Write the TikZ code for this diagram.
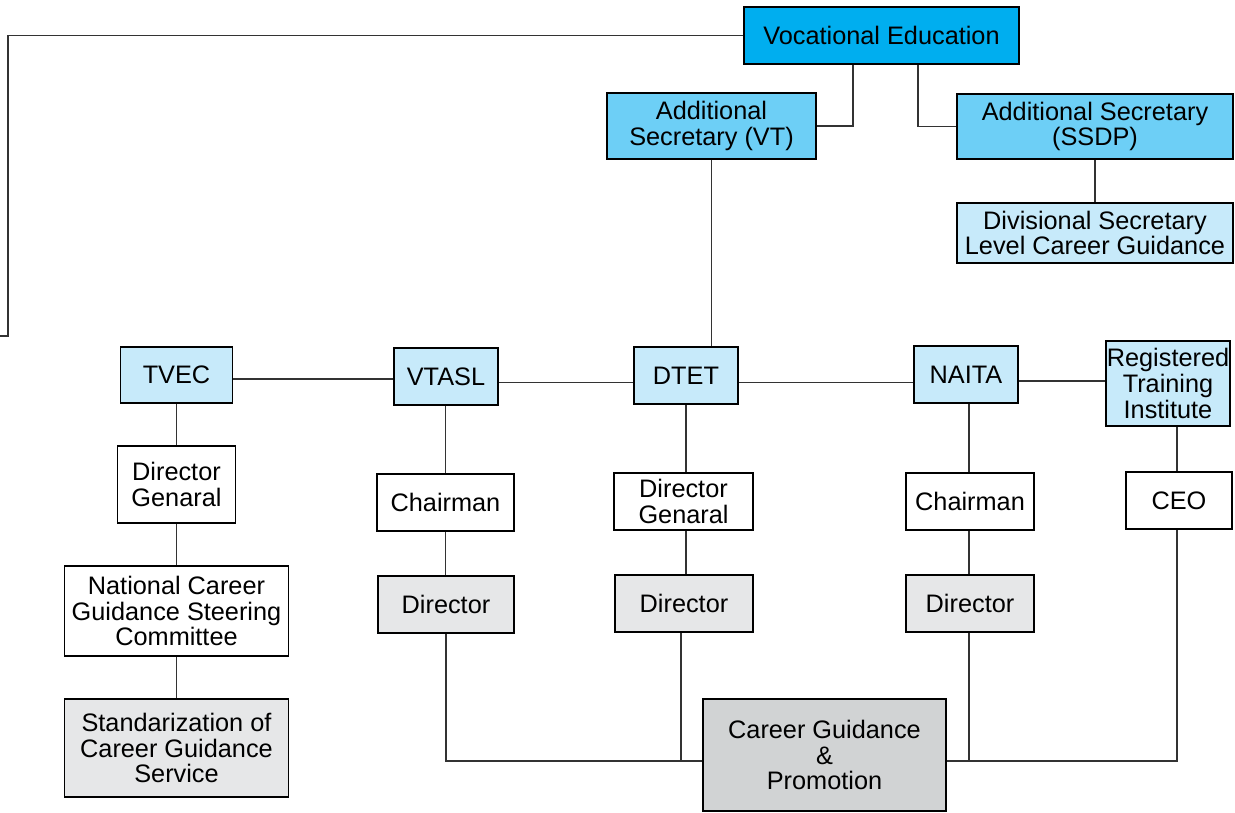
\documentclass[tikz,border=0pt]{standalone}
\usepackage{fontspec}
\setmainfont{Liberation Sans}
\usepackage{tikz}
\usetikzlibrary{positioning,calc}
\usepackage{xcolor}

\definecolor{vocblue}{HTML}{00AEEF}
\definecolor{secblue}{HTML}{6DCFF6}
\definecolor{paleblue}{HTML}{C7EAFA}
\definecolor{lightgray}{HTML}{E6E7E8}
\definecolor{midgray}{HTML}{D1D3D4}

\tikzset{
  unit/.style={draw, line width=0.9pt, inner sep=0pt, align=center,
    font=\fontsize{14.4}{14.6}\selectfont},
  topbox/.style={unit, fill=vocblue},
  secbox/.style={unit, fill=secblue},
  orgbox/.style={unit, fill=paleblue},
  headbox/.style={unit, fill=white},
  dirbox/.style={unit, fill=lightgray},
  mainbox/.style={unit, fill=midgray},
  link/.style={line width=0.85pt, black!80}
}

\begin{document}
\begin{tikzpicture}[x=0.02cm, y=-0.02cm]
\useasboundingbox (0,0) rectangle (1235,813);

% Ministerio y secretarias
\node[topbox, minimum width=5.5cm, minimum height=1.14cm] (voced) at (881.5,35.5) {Vocational Education};
\node[secbox, minimum width=4.18cm, minimum height=1.32cm] (asvt) at (711.5,126) {Additional\\Secretary (VT)};
\node[secbox, minimum width=5.52cm, minimum height=1.3cm] (asssdp) at (1095,126.5) {Additional Secretary\\(SSDP)};
\node[orgbox, minimum width=5.52cm, minimum height=1.2cm] (dslcg) at (1095,233) {Divisional Secretary\\Level Career Guidance};

% Instituciones
\node[orgbox, minimum width=2.24cm, minimum height=1.12cm] (tvec) at (176.5,375) {TVEC};
\node[orgbox, minimum width=2.08cm, minimum height=1.14cm] (vtasl) at (446,376.5) {VTASL};
\node[orgbox, minimum width=2.08cm, minimum height=1.14cm] (dtet) at (686,375.5) {DTET};
\node[orgbox, minimum width=2.08cm, minimum height=1.14cm] (naita) at (966,374.5) {NAITA};
\node[orgbox, minimum width=2.48cm, minimum height=1.7cm] (rti) at (1168,383.5) {Registered\\Training\\Institute};

% Jefaturas
\node[headbox, minimum width=2.36cm, minimum height=1.54cm] (tvecdg) at (176.5,484.5) {Director\\Genaral};
\node[headbox, minimum width=4.48cm, minimum height=1.8cm] (ncgsc) at (176.5,611) {National Career\\Guidance Steering\\Committee};
\node[dirbox, minimum width=4.48cm, minimum height=1.96cm] (stdcg) at (176.5,748) {Standarization of\\Career Guidance\\Service};
\node[headbox, minimum width=2.74cm, minimum height=1.14cm] (vtch) at (445.5,502.5) {Chairman};
\node[dirbox, minimum width=2.72cm, minimum height=1.14cm] (vtdir) at (446,604.5) {Director};
\node[headbox, minimum width=2.78cm, minimum height=1.14cm] (dtdg) at (683.5,501.5) {Director\\Genaral};
\node[dirbox, minimum width=2.76cm, minimum height=1.14cm] (dtdir) at (684,603.5) {Director};
\node[headbox, minimum width=2.56cm, minimum height=1.14cm] (nach) at (970,501.5) {Chairman};
\node[dirbox, minimum width=2.56cm, minimum height=1.14cm] (nadir) at (970,603.5) {Director};
\node[headbox, minimum width=2.12cm, minimum height=1.14cm] (ceo) at (1179,500.5) {CEO};
\node[mainbox, minimum width=4.86cm, minimum height=2.24cm] (cgp) at (824.5,755) {Career Guidance\\\&\\Promotion};

% Conectores superiores
\coordinate (lend) at (0,336);
\draw[link] (voced.west) -| (8,336) -- (lend);
\draw[link] (voced.south -| 853,0) |- (asvt.east);
\draw[link] (voced.south -| 918,0) |- (asssdp.west);
\draw[link] (asssdp) -- (dslcg);
\draw[link] (asvt.south) -- (asvt.south |- dtet.north);

% Fila de instituciones
\draw[link] ([yshift=-0.08cm]tvec.east) -- ([yshift=-0.08cm]tvec.east -| vtasl.west);
\draw[link] ([yshift=-0.12cm]vtasl.east) -- ([yshift=-0.12cm]vtasl.east -| dtet.west);
\draw[link] ([yshift=-0.14cm]dtet.east) -- ([yshift=-0.14cm]dtet.east -| naita.west);
\draw[link] ([yshift=-0.13cm]naita.east) -- ([yshift=-0.13cm]naita.east -| rti.west);

% Columnas
\draw[link] (tvec) -- (tvecdg) -- (ncgsc) -- (stdcg);
\draw[link] (vtasl.south -| vtch.north) -- (vtch) -- (vtdir.north -| vtch.south);
\draw[link] (dtet.south) -- (dtet.south |- dtdg.north);
\draw[link] (dtet.south |- dtdg.south) -- (dtet.south |- dtdir.north);
\draw[link] (nach.north -| 969,0) -- (naita.south -| 969,0);
\draw[link] (nach.south -| 969,0) -- (nadir.north -| 969,0);
\draw[link] (ceo.north -| 1177,0) -- (rti.south -| 1177,0);

% Bus hacia Career Guidance & Promotion
\coordinate (cgpw) at ([yshift=-0.12cm]cgp.west);
\coordinate (cgpe) at ([yshift=-0.12cm]cgp.east);
\draw[link] (vtdir.south) |- (cgpw);
\draw[link] (dtdir.south -| 681,0) -- (cgpw -| 681,0);
\draw[link] (nadir.south -| 969,0) -- (cgpe -| 969,0);
\draw[link] (ceo.south -| 1177,0) |- (cgpe);

\end{tikzpicture}
\end{document}
